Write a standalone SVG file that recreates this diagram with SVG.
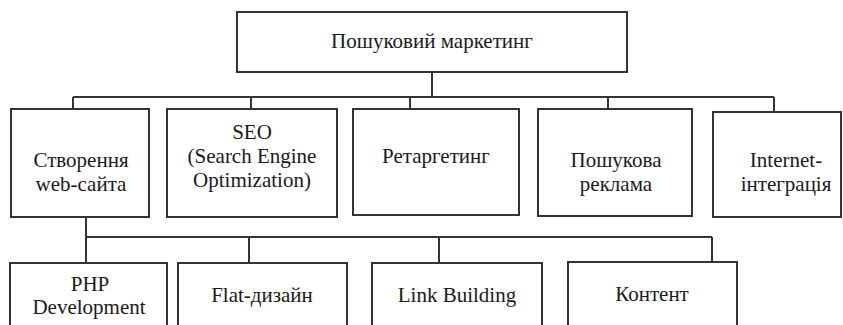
<svg xmlns="http://www.w3.org/2000/svg" width="843" height="325" viewBox="0 0 843 325">
<style>
.box{fill:#fff;stroke:#333;stroke-width:2}
.t{font-family:'Liberation Serif','Times New Roman',serif;font-size:21px;fill:#1a1a1a;text-anchor:middle}
.c{fill:none;stroke:#333;stroke-width:2}
</style>
<rect width="843" height="325" fill="#fff"/>
<g id="connectors">
<path class="c" d="M432 72V97M73 97H774M73 97V109M251 97V109M410 97V109M608 97V109M774 97V112"/>
<path class="c" d="M86 217V237M86 237H712M86 237V263M249 237V263M439 237V263M712 237V262"/>
</g>
<g id="root"><rect class="box" x="237" y="12" width="390" height="60"/><text class="t" x="432" y="48">Пошуковий маркетинг</text></g>
<g id="n1"><rect class="box" x="11" y="109" width="138" height="108"/><text class="t" x="81" y="167">Створення</text><text class="t" x="81" y="191">web-сайта</text></g>
<g id="n2"><rect class="box" x="167" y="109" width="170" height="108"/><text class="t" x="252" y="139">SEO</text><text class="t" x="252" y="163">(Search Engine</text><text class="t" x="252" y="187">Optimization)</text></g>
<g id="n3"><rect class="box" x="353" y="109" width="166" height="106"/><text class="t" x="436" y="163">Ретаргетинг</text></g>
<g id="n4"><rect class="box" x="538" y="109" width="154" height="107"/><text class="t" x="616" y="167">Пошукова</text><text class="t" x="616" y="191">реклама</text></g>
<g id="n5"><rect class="box" x="713" y="112" width="128" height="105"/><text class="t" x="786" y="167">Internet-</text><text class="t" x="786" y="191">інтеграція</text></g>
<g id="b1"><rect class="box" x="10" y="263" width="157" height="80"/><text class="t" x="90" y="291">PHP</text><text class="t" x="89" y="314">Development</text></g>
<g id="b2"><rect class="box" x="178" y="263" width="169" height="80"/><text class="t" x="262" y="302">Flat-дизайн</text></g>
<g id="b3"><rect class="box" x="372" y="263" width="170" height="80"/><text class="t" x="457" y="302">Link Building</text></g>
<g id="b4"><rect class="box" x="568" y="262" width="169" height="80"/><text class="t" x="652" y="301">Контент</text></g>
</svg>
